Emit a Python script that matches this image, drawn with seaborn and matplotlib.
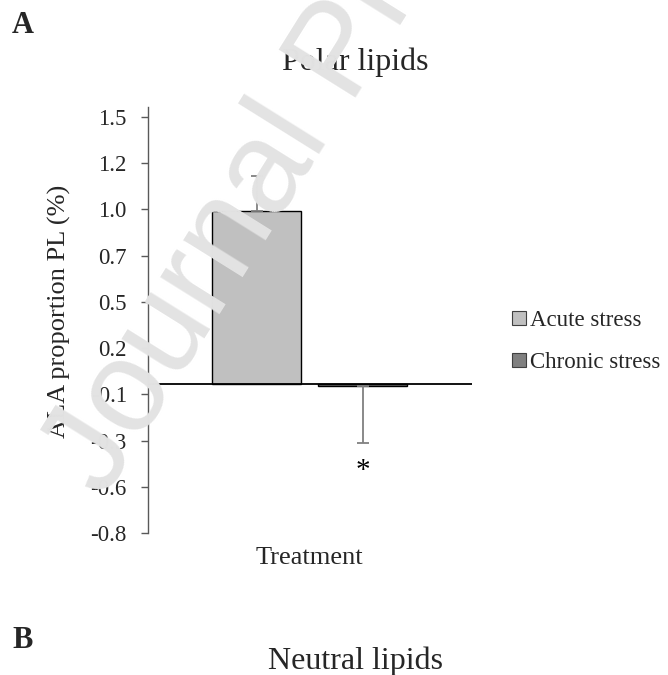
import matplotlib
matplotlib.use("Agg")
import matplotlib.pyplot as plt
import seaborn as sns
import pandas as pd
from matplotlib.patches import Patch

# ---- data ----
groups = ["Acute stress", "Chronic stress"]
category = ["Treatment"]
values = [0.97, -0.01]
err_upper = [0.20, 0.0]
err_lower = [0.0, 0.32]
sig_marks = ["", "*"]
bar_colors = ["#C0C0C0", "#808080"]
ytick_values = [1.5, 1.24, 0.98, 0.72, 0.46, 0.20, -0.06, -0.32, -0.58, -0.84]
ytick_labels = ["1.5", "1.2", "1.0", "0.7", "0.5", "0.2", "-0.1", "-0.3", "-0.6", "-0.8"]

df = pd.DataFrame({"Treatment": category * len(groups), "Group": groups, "value": values})

sns.set_theme(style="white")
plt.rcParams["font.family"] = ["Liberation Serif", "DejaVu Serif"]
plt.rcParams["axes.unicode_minus"] = False

W, H = 668, 675
fig = plt.figure(figsize=(W / 100, H / 100), dpi=100)
ax_left, ax_right, ax_top, ax_bottom = 147.7, 472.0, 107.0, 533.3
ax = fig.add_axes([ax_left / W, 1 - ax_bottom / H, (ax_right - ax_left) / W, (ax_bottom - ax_top) / H])

sns.barplot(data=df, x="Treatment", y="value", hue="Group", hue_order=groups,
            palette=bar_colors, width=0.8, gap=0.16, edgecolor="black",
            linewidth=1.0, errorbar=None, legend=False, ax=ax, zorder=2)

# error bars & significance
bars = sorted(ax.patches, key=lambda p: p.get_x())
for i, p in enumerate(bars):
    xc = p.get_x() + p.get_width() / 2
    ax.errorbar([xc], [values[i]], yerr=[[err_lower[i]], [err_upper[i]]],
                fmt="none", ecolor="#808080", elinewidth=1.3, capsize=4.5,
                capthick=1.3, zorder=3)
    if sig_marks[i]:
        ax.text(xc, values[i] - err_lower[i] - 0.16, sig_marks[i],
                ha="center", va="center", fontsize=21, color="black")

ax.set_xlim(-0.6126, 0.6126)
ax.set_ylim(-0.84, 1.555)
ax.set_yticks(ytick_values)
ax.set_yticklabels(ytick_labels)
ax.tick_params(axis="y", direction="out", length=5, width=1.0, color="#595959",
               pad=10, labelsize=16.5, left=True)
ax.tick_params(axis="x", length=0, labelbottom=False)
ax.set_xlabel("Treatment", fontsize=19, labelpad=10)
ax.set_ylabel("ALA proportion PL (%)", fontsize=19)
ax.yaxis.set_label_coords(-0.2365, 0.52)

for s in ["top", "right", "bottom"]:
    ax.spines[s].set_visible(False)
ax.spines["left"].set_color("#595959")
ax.spines["left"].set_linewidth(1.0)
ax.axhline(0, color="black", lw=1.3, zorder=4)
ax.grid(False)

ax.set_title("Polar lipids", fontsize=23, x=(355 - ax_left) / (ax_right - ax_left),
             y=1 + (ax_top - 70) / (ax_bottom - ax_top), va="baseline", ha="center", pad=0)

handles = [Patch(facecolor=c, edgecolor="#404040", linewidth=0.8) for c in bar_colors]
fig.legend(handles, groups, loc="upper left", bbox_to_anchor=(512 / W, 1 - 310 / H),
           frameon=False, fontsize=16.5, handlelength=0.6, handleheight=0.6,
           handletextpad=0.2, labelspacing=0.92, borderpad=0, borderaxespad=0)

fig.text(12 / W, 1 - 33 / H, "A", fontsize=22, fontweight="bold", va="baseline", ha="left")
fig.text(12 / W, 1 - 648 / H, "B", fontsize=22, fontweight="bold", va="baseline", ha="left")
fig.text(355 / W, 1 - 669 / H, "Neutral lipids", fontsize=23, va="baseline", ha="center")

# watermark
fig.text(104 / W, 1 - 500 / H, "Journal Pre-proof", fontsize=94, rotation=58,
         rotation_mode="anchor", ha="left", va="baseline", color="#e3e3e3",
         family="Liberation Sans", zorder=10)

fig.savefig("out.png", dpi=100)
